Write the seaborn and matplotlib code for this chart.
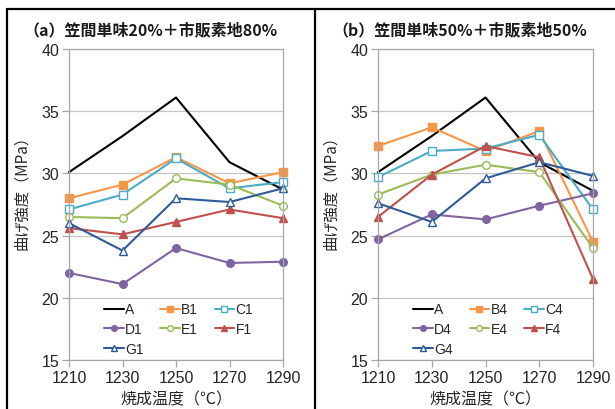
import numpy as np
import pandas as pd
import matplotlib
matplotlib.use("Agg")
import matplotlib.pyplot as plt
import seaborn as sns
from matplotlib.lines import Line2D

# ---- data ----
temps = [1210, 1230, 1250, 1270, 1290]
yticks = [15, 20, 25, 30, 35, 40]

titles = ["（a）笠間単味20%＋市販素地80%", "（b）笠間単味50%＋市販素地50%"]
ylabel = "曲げ強度（MPa）"
xlabel = "焼成温度（℃）"

names_a = ["A", "B1", "C1", "D1", "E1", "F1", "G1"]
A_a  = [30.1, 33.0, 36.1, 30.9, 28.7]
B1   = [28.0, 29.1, 31.3, 29.2, 30.1]
C1   = [27.1, 28.3, 31.2, 28.8, 29.3]
D1   = [22.0, 21.1, 24.0, 22.8, 22.9]
E1   = [26.5, 26.4, 29.6, 29.1, 27.4]
F1   = [25.6, 25.1, 26.1, 27.1, 26.4]
G1   = [26.0, 23.8, 28.0, 27.7, 28.8]

names_b = ["A", "B4", "C4", "D4", "E4", "F4", "G4"]
A_b  = [30.1, 33.0, 36.1, 30.9, 28.6]
B4   = [32.2, 33.7, 31.8, 33.4, 24.5]
C4   = [29.7, 31.8, 32.0, 33.1, 27.1]
D4   = [24.7, 26.7, 26.3, 27.4, 28.4]
E4   = [28.3, 29.9, 30.7, 30.1, 24.0]
F4   = [26.5, 29.9, 32.2, 31.3, 21.5]
G4   = [27.6, 26.1, 29.6, 30.9, 29.8]

series_a = [A_a, B1, C1, D1, E1, F1, G1]
series_b = [A_b, B4, C4, D4, E4, F4, G4]

# ---- styles ----
colors = ["#000000", "#F79646", "#4BACC6", "#8064A2", "#9BBB59", "#C0504D", "#2E5B97"]
markers = [None, "s", "s", "o", "o", "^", "^"]
filled = [True, True, False, True, False, True, False]
# legend order so that column-major filling gives rows A B C / D E F / G
leg_order = [0, 3, 6, 1, 4, 2, 5]

sns.set_theme(style="white")
plt.rcParams["font.family"] = ["Liberation Sans", "Noto Sans CJK JP", "DejaVu Sans"]
cjk = ["Noto Sans CJK JP", "DejaVu Sans"]

W, H = 615, 410
fig = plt.figure(figsize=(W / 100, H / 100), dpi=100)

def fx(px):
    return px / W

def fy(py):
    return 1 - py / H

ax_specs = [(69, 283), (378, 593)]
top_px, bot_px = 50, 361

for i, (names, series) in enumerate([(names_a, series_a), (names_b, series_b)]):
    x0, x1 = ax_specs[i]
    ax = fig.add_axes([fx(x0), fy(bot_px), fx(x1 - x0), (bot_px - top_px) / H])
    for name, vals, c, m, f in zip(names, series, colors, markers, filled):
        df = pd.DataFrame({"temp": temps, "val": vals})
        kw = dict(color=c, linewidth=1.5, clip_on=False, label=name)
        if m is not None:
            kw.update(marker=m, markersize=5.5 if m != "^" else 6,
                      markerfacecolor=(c if f else "white"),
                      markeredgecolor=c, markeredgewidth=1.0)
        sns.lineplot(data=df, x="temp", y="val", ax=ax, **kw)
    ax.set_xlim(1210, 1290)
    ax.set_ylim(15, 40)
    ax.set_xticks(temps)
    ax.set_yticks(yticks)
    ax.set_xlabel("")
    ax.set_ylabel("")
    ax.grid(axis="y", color="#C4C4C4", linewidth=0.9)
    ax.grid(axis="x", visible=False)
    for s in ax.spines.values():
        s.set_color("#A6A6A6")
        s.set_linewidth(0.9)
    ax.tick_params(axis="both", direction="out", length=5, width=0.9,
                   color="#A6A6A6", labelcolor="#262626", labelsize=11.5, pad=2,
                   bottom=True, left=True)
    handles, labels = ax.get_legend_handles_labels()
    handles = [handles[k] for k in leg_order]
    labels = [labels[k] for k in leg_order]
    leg = ax.legend(handles, labels, ncol=3, loc="upper left",
                    bbox_to_anchor=(0.165, 0.185),
                    frameon=False, fontsize=10, handlelength=1.4,
                    handletextpad=0.1, columnspacing=1.2, labelspacing=0.42,
                    borderpad=0, borderaxespad=0, markerscale=0.75)
    for t in leg.get_texts():
        t.set_color("#262626")
    # title and axis labels
    tx = 150 if i == 0 else 460
    fig.text(fx(tx), fy(30), titles[i], ha="center", va="center",
             fontsize=11.5, fontweight="semibold", family=cjk, color="#1a1a1a")
    fig.text(fx(x0 - 47), fy(189), ylabel, ha="center", va="center",
             rotation=90, fontsize=11, family=cjk, color="#262626")
    fig.text(fx((x0 + x1) / 2), fy(400), xlabel, ha="center", va="center",
             fontsize=11.5, family=cjk, color="#262626")

# outer frame lines
lw = 1.6
fig.add_artist(Line2D([fx(7), 1.0], [fy(10), fy(10)], color="black", lw=lw))
fig.add_artist(Line2D([fx(7), fx(7)], [fy(10), 0], color="black", lw=lw))
fig.add_artist(Line2D([fx(315), fx(315)], [fy(10), 0], color="black", lw=lw))

fig.savefig("out.png", dpi=100)
